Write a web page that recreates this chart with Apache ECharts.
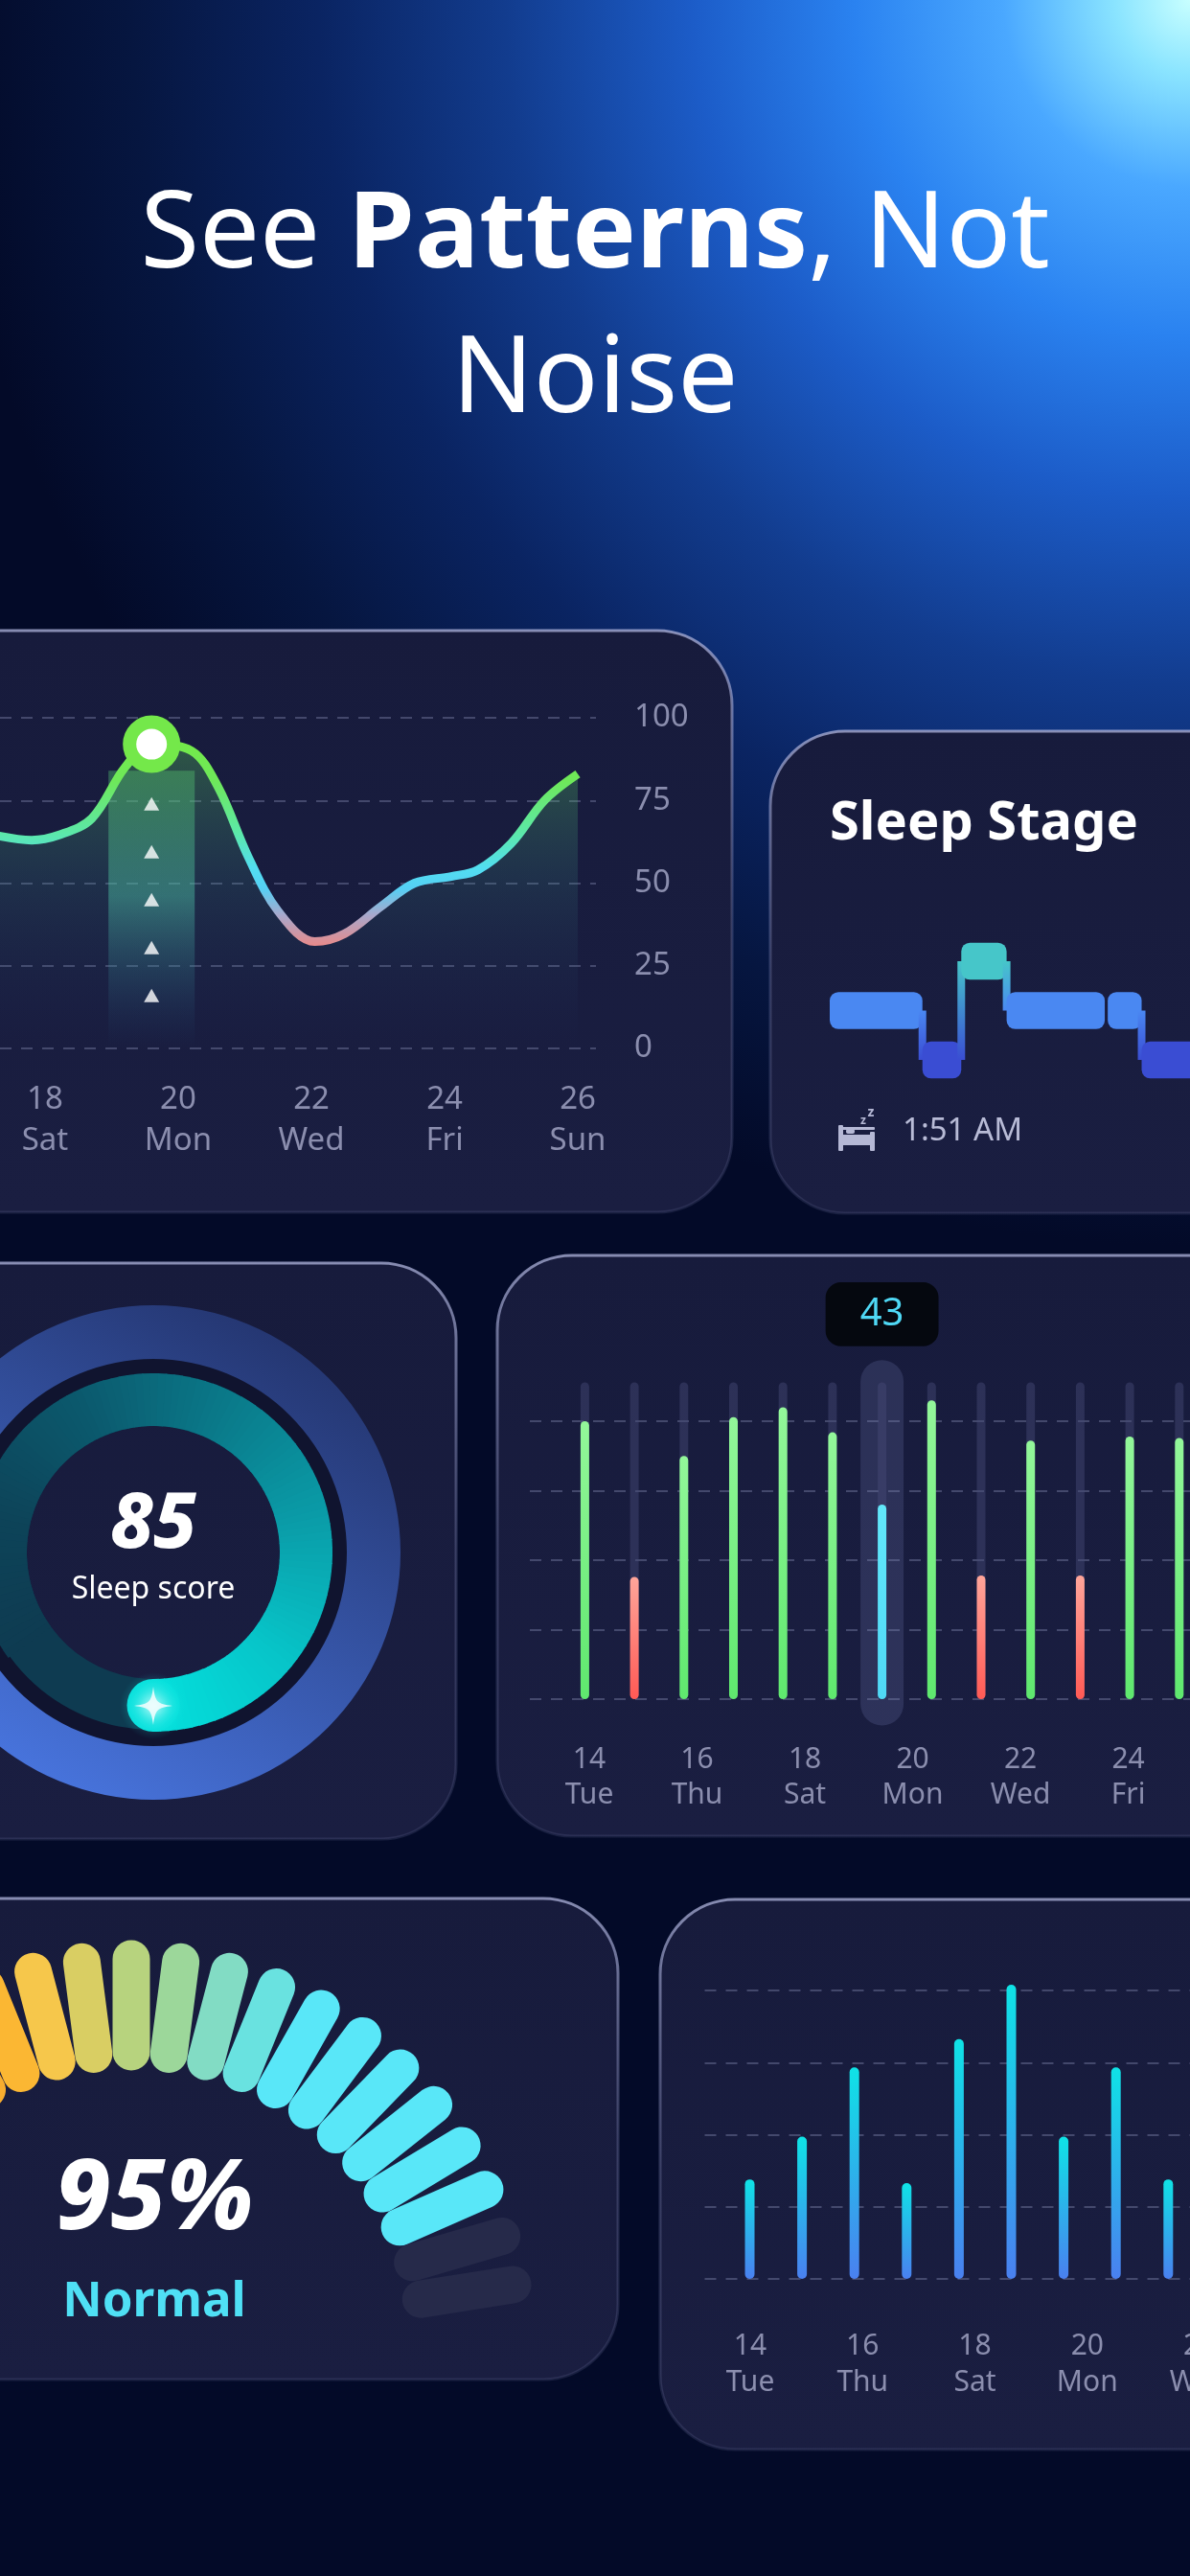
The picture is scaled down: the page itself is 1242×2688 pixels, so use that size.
<!DOCTYPE html>
<html>
<head>
<meta charset="utf-8">
<title>See Patterns, Not Noise</title>
<script src="https://cdn.jsdelivr.net/npm/echarts@6.0.0/dist/echarts.min.js"></script>
<style>
html, body { margin: 0; padding: 0; background: #020720; }
#main { width: 1242px; height: 2688px; }
</style>
</head>
<body>
<div id="main"></div>
<script>
var FONT = '"Noto Sans", "Open Sans", sans-serif';
var LABEL_COLOR = '#8b8eae';

// calendar
var dayNumbers = [14, 15, 16, 17, 18, 19, 20, 21, 22, 23, 24, 25, 26];
var dayNames = ['Tue', 'Wed', 'Thu', 'Fri', 'Sat', 'Sun', 'Mon', 'Tue', 'Wed', 'Thu', 'Fri', 'Sat', 'Sun'];

// trend card
var trendDays = [16.8, 17.3, 17.8, 18.2, 18.7, 19.2, 19.6, 20.2, 20.6, 21.05, 21.5, 22.05, 22.5, 23.05, 23.55, 24.1, 24.5, 25.0, 25.5, 26.0];
var trendValues = [67, 64.3, 63, 64.5, 69.5, 85, 92, 90, 79, 58, 41.5, 32.3, 34.7, 43, 50, 52, 54, 62, 75, 83];
var trendLabelDays = [18, 20, 22, 24, 26];
var trendPeakDay = 19.6;
var trendPeakValue = 92;
var trendBandValue = 84;
var trendArrowValues = [74, 59.5, 45, 30.5, 16];

// sleep stage card (hours from start, level 0 deep / 1 light / 2 rem)
var stageStart = [0, 1.86, 2.64, 3.55, 5.58, 6.26];
var stageEnd = [1.86, 2.64, 3.55, 5.52, 6.26, 8.2];
var stageLevel = [1, 0, 2, 1, 1, 0];
var bedTime = '1:51 AM';

// sleep score card
var sleepScore = 85;
var sleepScoreName = 'Sleep score';

// daily bars card
var dailyValues = [100, 44, 87.5, 101.5, 105, 96, 70, 107.5, 44.5, 93, 44.5, 94.5, 94];
var dailyTrack = 114;
var dailySelected = 6;
var dailySelectedLabel = '43';
var dailyLabelDays = [14, 16, 18, 20, 22, 24];

// gauge card
var gaugePercent = 95;
var gaugeStatus = 'Normal';
var gaugeSegments = 23;

// weekly bars card
var weeklyValues = [34.5, 49.3, 73.3, 33.2, 83.1, 102, 49.3, 73.3, 34.5];
var weeklyLabelDays = [14, 16, 18, 20, 22];

function grad(x, y, x2, y2, stops) {
    return new echarts.graphic.LinearGradient(x, y, x2, y2, stops.map(function (s) {
        return { offset: s[0], color: s[1] };
    }));
}

function dayLabel(v) {
    var i = dayNumbers.indexOf(Math.round(v));
    return i < 0 ? '' : Math.round(v) + '\n' + dayNames[i];
}

function card(x, y, w, h) {
    return {
        type: 'rect', z: -9,
        shape: { x: x, y: y, width: w, height: h, r: 78 },
        style: {
            fill: grad(0, 0, 0, 1, [[0, '#171b3c'], [1, '#1a1e41']]),
            stroke: grad(0, 0, 0, 1, [[0, 'rgba(175,180,220,0.75)'], [0.5, 'rgba(120,125,170,0.35)'], [1, 'rgba(110,115,160,0.2)']]),
            lineWidth: 3
        }
    };
}

function dashed() {
    return { lineStyle: { color: 'rgba(140,145,185,0.38)', type: [12, 10], width: 2 } };
}

var stageColors = ['#3a4dd3', '#4a88f2', '#46c6c9'];

var segmentColors = ['#f28e2b', '#f3932b', '#f4982b', '#f59d2b', '#f6a22c', '#f6a72d', '#f7a92e', '#f8ad2f',
    '#fbb733', '#f6c74b', '#d9ce63', '#b7d37e', '#9cd79a', '#82dcc4', '#69e2e0',
    '#59e7f8', '#59e7f8', '#59e7f8', '#59e7f8', '#59e7f8', '#59e7f8', '#59e7f8', '#59e7f8'];
var segmentStartAngle = 171, segmentEndAngle = 9;
var segmentData = [];
for (var i = 0; i < gaugeSegments; i++) {
    segmentData.push([355, segmentStartAngle - i * (segmentStartAngle - segmentEndAngle) / (gaugeSegments - 1), i]);
}
var litSegments = Math.floor(gaugePercent / 100 * gaugeSegments);

// score arc runs clockwise from 216deg; knob sits where the arc ends
var scoreCenter = [160, 1620];
var scoreStartAngle = 216;
var scoreEndAngle = ((scoreStartAngle - sleepScore / 100 * 360) % 360 + 360) % 360;
var scoreArcColors = ['#0e3b51', '#0d4459', '#0b5a6e', '#0a7a8a', '#0a9ca8', '#07c4c8', '#04e0dc'];
var starPath = 'path://M50,0 C55,40 60,45 100,50 C60,55 55,60 50,100 C45,60 40,55 0,50 C40,45 45,40 50,0 Z';

var chart = echarts.init(document.getElementById('main'));

var option = {
    animation: false,
    backgroundColor: '#020720',
    graphic: [
        {
            type: 'rect', z: -10,
            shape: { x: 0, y: 0, width: 1242, height: 2688 },
            style: {
                fill: new echarts.graphic.RadialGradient(1242, 0, 1300, [
                    { offset: 0, color: '#c8ffff' },
                    { offset: 0.06, color: '#8ae4ff' },
                    { offset: 0.15, color: '#4aa8ff' },
                    { offset: 0.27, color: '#2a82f0' },
                    { offset: 0.4, color: '#1c5cc8' },
                    { offset: 0.55, color: '#123c8e' },
                    { offset: 0.7, color: '#0a2462' },
                    { offset: 0.85, color: '#061640' },
                    { offset: 1, color: '#030a28' }
                ], true)
            }
        },
        card(-100, 658, 864, 607),
        card(804, 763, 538, 503),
        card(-100, 1318, 576, 601),
        card(519, 1310, 823, 606),
        card(-100, 1981, 745, 502),
        card(689, 1982, 653, 574),
        {
            type: 'text', z: 10,
            style: {
                x: 621, y: 247, align: 'center', verticalAlign: 'middle',
                text: '{r|See }{b|Patterns}{r|, Not}',
                rich: {
                    r: { fontSize: 112, fontFamily: FONT, fontWeight: 400, fill: '#ffffff' },
                    b: { fontSize: 112, fontFamily: FONT, fontWeight: 700, fill: '#ffffff' }
                }
            }
        },
        {
            type: 'text', z: 10,
            style: {
                x: 621, y: 398, align: 'center', verticalAlign: 'middle',
                text: 'Noise', fontSize: 112, fontFamily: FONT, fontWeight: 400, fill: '#ffffff'
            }
        },
        {
            type: 'text', z: 10,
            style: {
                x: 866, y: 860, align: 'left', verticalAlign: 'middle',
                text: 'Sleep Stage', fontSize: 56, fontFamily: FONT, fontWeight: 700, fill: '#ffffff'
            }
        },
        // bed icon
        {
            type: 'group', z: 10,
            children: [
                { type: 'rect', shape: { x: 875, y: 1174, width: 5, height: 27, r: 1 }, style: { fill: '#b5b8d5' } },
                { type: 'rect', shape: { x: 908, y: 1181, width: 5, height: 20, r: 1 }, style: { fill: '#b5b8d5' } },
                { type: 'rect', shape: { x: 875, y: 1184, width: 38, height: 11, r: 2 }, style: { fill: '#b5b8d5' } },
                { type: 'rect', shape: { x: 883, y: 1178, width: 9, height: 5, r: 2 }, style: { fill: '#b5b8d5' } },
                { type: 'rect', shape: { x: 875, y: 1176, width: 38, height: 3, r: 1 }, style: { fill: '#b5b8d5' } },
                { type: 'text', style: { x: 901, y: 1170, text: 'z', fontSize: 12, fontWeight: 700, fontFamily: FONT, fill: '#b5b8d5', align: 'center', verticalAlign: 'middle' } },
                { type: 'text', style: { x: 909, y: 1161, text: 'z', fontSize: 14, fontWeight: 700, fontFamily: FONT, fill: '#b5b8d5', align: 'center', verticalAlign: 'middle' } }
            ]
        },
        {
            type: 'text', z: 10,
            style: {
                x: 942, y: 1181, align: 'left', verticalAlign: 'middle',
                text: bedTime, fontSize: 33, fontFamily: FONT, fill: '#b8bbd6'
            }
        },
        {
            type: 'text', z: 10,
            style: {
                x: 161, y: 2297, align: 'center', verticalAlign: 'middle',
                text: gaugePercent + '%', fontSize: 102, fontFamily: FONT, fontWeight: 800, fontStyle: 'italic', fill: '#ffffff'
            }
        },
        {
            type: 'text', z: 10,
            style: {
                x: 161, y: 2402, align: 'center', verticalAlign: 'middle',
                text: gaugeStatus, fontSize: 51, fontFamily: FONT, fontWeight: 700, fill: '#4fe0f5'
            }
        }
    ],
    grid: [
        { left: 0, top: 749, width: 622, height: 345, outerBoundsMode: 'none' },
        { left: 866, top: 1003, width: 416, height: 103, outerBoundsMode: 'none' },
        { left: 553, top: 1483, width: 709, height: 290, outerBoundsMode: 'none' },
        { left: 584.55, top: 1483, width: 672.1, height: 290, outerBoundsMode: 'none' },
        { left: 735.5, top: 2077, width: 527, height: 301, outerBoundsMode: 'none' },
        { left: 755.2, top: 2077, width: 491.4, height: 301, outerBoundsMode: 'none' }
    ],
    polar: [
        { center: [137, 2447], radius: 422 },
        { center: scoreCenter, radius: 187 }
    ],
    radiusAxis: [
        { polarIndex: 0, min: 0, max: 422, show: false },
        { polarIndex: 1, min: 0, max: 187, show: false }
    ],
    angleAxis: [
        { polarIndex: 0, type: 'value', min: 0, max: 360, startAngle: 0, clockwise: false, show: false },
        { polarIndex: 1, type: 'value', min: 0, max: 360, startAngle: 0, clockwise: false, show: false }
    ],
    xAxis: [
        {
            gridIndex: 0, type: 'value', position: 'bottom', min: 17.324, max: 26.273,
            axisLine: { show: false }, axisTick: { show: false }, splitLine: { show: false },
            axisLabel: {
                customValues: trendLabelDays, formatter: dayLabel, margin: 32,
                color: LABEL_COLOR, fontSize: 33, lineHeight: 43, fontFamily: FONT
            }
        },
        { gridIndex: 1, type: 'value', min: 0, max: 8, show: false },
        {
            gridIndex: 2, type: 'value', position: 'bottom', min: 12.898, max: 25.5,
            axisLine: { show: false }, axisTick: { show: false }, splitLine: { show: false },
            axisLabel: {
                customValues: dailyLabelDays, formatter: dayLabel, margin: 45,
                color: LABEL_COLOR, fontSize: 30, lineHeight: 37, fontFamily: FONT
            }
        },
        { gridIndex: 3, type: 'category', data: dayNumbers, show: false },
        {
            gridIndex: 4, type: 'value', position: 'bottom', min: 13.19, max: 22.178,
            axisLine: { show: false }, axisTick: { show: false }, splitLine: { show: false },
            axisLabel: {
                customValues: weeklyLabelDays, formatter: dayLabel, margin: 51,
                color: LABEL_COLOR, fontSize: 30, lineHeight: 38, fontFamily: FONT
            }
        },
        { gridIndex: 5, type: 'category', data: dayNumbers.slice(0, weeklyValues.length), show: false }
    ],
    yAxis: [
        {
            gridIndex: 0, type: 'value', position: 'right', min: 0, max: 100, interval: 25,
            axisLine: { show: false }, axisTick: { show: false },
            axisLabel: { margin: 40, color: LABEL_COLOR, fontSize: 33, fontFamily: FONT },
            splitLine: dashed()
        },
        { gridIndex: 1, type: 'value', min: 0, max: 2, show: false },
        {
            gridIndex: 2, type: 'value', min: 0, max: 100, interval: 25,
            axisLine: { show: false }, axisTick: { show: false }, axisLabel: { show: false },
            splitLine: dashed()
        },
        { gridIndex: 3, type: 'value', min: 0, max: 100, show: false },
        {
            gridIndex: 4, type: 'value', min: 0, max: 100, interval: 25,
            axisLine: { show: false }, axisTick: { show: false }, axisLabel: { show: false },
            splitLine: dashed()
        },
        { gridIndex: 5, type: 'value', min: 0, max: 100, show: false }
    ],
    series: [
        // trend card
        {
            type: 'bar', xAxisIndex: 0, yAxisIndex: 0, barWidth: 90, silent: true,
            data: [[trendPeakDay, trendBandValue]],
            itemStyle: { color: grad(0, 0, 0, 1, [[0, 'rgba(80,190,110,0.4)'], [0.45, 'rgba(80,200,170,0.45)'], [1, 'rgba(40,90,140,0)']]) }
        },
        {
            type: 'line', xAxisIndex: 0, yAxisIndex: 0, smooth: 0.35, symbol: 'none', z: 3,
            data: trendDays.map(function (d, i) { return [d, trendValues[i]]; }),
            lineStyle: {
                width: 9,
                color: grad(0, 0, 0, 1, [[0, '#74ea48'], [0.2, '#6ee85a'], [0.45, '#5ce8a8'], [0.62, '#52def0'], [0.72, '#55d0f5'], [0.85, '#a8a8cc'], [1, '#e88a8a']])
            },
            areaStyle: {
                color: grad(0, 0, 0, 1, [[0, 'rgba(100,230,90,0.42)'], [0.45, 'rgba(70,170,150,0.2)'], [1, 'rgba(40,60,130,0)']])
            }
        },
        {
            type: 'scatter', xAxisIndex: 0, yAxisIndex: 0, symbol: 'triangle', symbolSize: [16, 14], z: 4,
            data: trendArrowValues.map(function (v) { return [trendPeakDay, v]; }),
            itemStyle: { color: '#ffffff' }
        },
        {
            type: 'scatter', xAxisIndex: 0, yAxisIndex: 0, symbol: 'circle', symbolSize: 46, z: 5,
            data: [[trendPeakDay, trendPeakValue]],
            itemStyle: { color: '#ffffff', borderColor: '#74e84a', borderWidth: 14, opacity: 1 }
        },
        // sleep stage card
        {
            type: 'custom', xAxisIndex: 1, yAxisIndex: 1,
            data: stageStart.map(function (s, i) { return [s, stageLevel[i], stageEnd[i]]; }),
            renderItem: function (params, api) {
                var i = params.dataIndex;
                var level = api.value(1);
                var p1 = api.coord([api.value(0), level]);
                var p2 = api.coord([api.value(2), level]);
                var h = api.size([0, 0.75])[1];
                var children = [{
                    type: 'rect',
                    shape: { x: p1[0], y: p1[1] - h / 2, width: p2[0] - p1[0], height: h, r: 9 },
                    style: { fill: stageColors[level] }
                }];
                if (i < stageStart.length - 1 && stageEnd[i] === stageStart[i + 1]) {
                    var next = stageLevel[i + 1];
                    var q = api.coord([stageEnd[i], next]);
                    var upper = level > next ? level : next;
                    var lower = level > next ? next : level;
                    var yTop = Math.min(p2[1], q[1]);
                    var yBot = Math.max(p2[1], q[1]);
                    children.push({
                        type: 'rect',
                        shape: { x: p2[0] - 4, y: yTop, width: 8, height: yBot - yTop },
                        style: { fill: grad(0, 0, 0, 1, [[0, stageColors[upper]], [1, stageColors[lower]]]) }
                    });
                }
                return { type: 'group', children: children };
            }
        },
        // sleep score card
        {
            type: 'pie', center: scoreCenter, radius: [185, 204], silent: true,
            label: { show: false }, labelLine: { show: false },
            data: [{ value: 1, itemStyle: { color: '#10142f' } }]
        },
        {
            type: 'pie', center: scoreCenter, radius: [202, 258], silent: true,
            label: { show: false }, labelLine: { show: false },
            data: [{ value: 1, itemStyle: { color: grad(0.8, 0, 0.2, 1, [[0, '#22326a'], [1, '#4a78e4']]) } }]
        },
        {
            type: 'gauge', center: scoreCenter, radius: 187,
            startAngle: scoreStartAngle, endAngle: scoreStartAngle - 360, min: 0, max: 100,
            axisLine: { roundCap: true, lineStyle: { width: 55, color: [[1, '#0e3b51']] } },
            progress: { show: false },
            splitLine: { show: false }, axisTick: { show: false }, axisLabel: { show: false },
            anchor: { show: false }, pointer: { show: false },
            title: { offsetCenter: [0, 39], fontSize: 32, color: '#ffffff', fontFamily: FONT },
            detail: {
                offsetCenter: [0, -28], fontSize: 80, fontWeight: 800, fontStyle: 'italic',
                color: '#ffffff', fontFamily: FONT, formatter: '{value}'
            },
            data: [{ value: sleepScore, name: sleepScoreName }]
        },
        {
            // score arc, shaded along its sweep
            type: 'custom', coordinateSystem: 'polar', polarIndex: 1, z: 5, silent: true,
            data: [[160, scoreEndAngle]],
            renderItem: function (params, api) {
                var c = api.coord([0, 0]);
                var sweep = sleepScore / 100 * 2 * Math.PI;
                var a0 = -scoreStartAngle * Math.PI / 180;
                var steps = 120;
                var children = [];
                for (var k = 0; k < steps; k++) {
                    var s = a0 + sweep * k / steps;
                    children.push({
                        type: 'sector',
                        shape: { cx: c[0], cy: c[1], r0: 132, r: 187, startAngle: s, endAngle: s + sweep / steps + 0.006, clockwise: true },
                        style: { fill: echarts.color.lerp((k + 0.5) / steps, scoreArcColors) }
                    });
                }
                var end = api.coord([159.5, scoreEndAngle]);
                children.push({
                    type: 'circle',
                    shape: { cx: end[0], cy: end[1], r: 27.5 },
                    style: { fill: scoreArcColors[scoreArcColors.length - 1] }
                });
                return { type: 'group', children: children };
            }
        },
        {
            type: 'scatter', coordinateSystem: 'polar', polarIndex: 1, symbol: 'circle', symbolSize: 70, z: 6, silent: true,
            data: [[160, scoreEndAngle]],
            itemStyle: {
                color: new echarts.graphic.RadialGradient(0.5, 0.5, 0.5, [
                    { offset: 0, color: 'rgba(190,255,255,0.6)' },
                    { offset: 1, color: 'rgba(0,230,225,0)' }
                ])
            }
        },
        {
            type: 'scatter', coordinateSystem: 'polar', polarIndex: 1, symbol: starPath, symbolSize: 40, z: 7, silent: true,
            data: [[160, scoreEndAngle]],
            itemStyle: { color: '#ffffff', shadowBlur: 14, shadowColor: 'rgba(255,255,255,0.9)' }
        },
        // daily bars card
        {
            type: 'custom', xAxisIndex: 3, yAxisIndex: 3, z: 1,
            data: [[dailySelected, dailyValues[dailySelected]]],
            renderItem: function (params, api) {
                var idx = api.value(0);
                var band = api.size([1, 0])[0];
                var top = api.coord([idx, 122]);
                var bottom = api.coord([idx, -9.5]);
                var w = band * 0.87;
                var tipTop = api.coord([idx, 150]);
                var tipBottom = api.coord([idx, 127]);
                var tipW = band * 2.28;
                return {
                    type: 'group',
                    children: [
                        {
                            type: 'rect',
                            shape: { x: top[0] - w / 2, y: top[1], width: w, height: bottom[1] - top[1], r: w / 2 },
                            style: { fill: 'rgba(120,128,180,0.22)' }
                        },
                        {
                            type: 'rect',
                            shape: { x: tipTop[0] - tipW / 2, y: tipTop[1], width: tipW, height: tipBottom[1] - tipTop[1], r: 16 },
                            style: { fill: '#05080f' }
                        },
                        {
                            type: 'text',
                            style: {
                                x: tipTop[0], y: (tipTop[1] + tipBottom[1]) / 2, align: 'center', verticalAlign: 'middle',
                                text: dailySelectedLabel, fontSize: 40, fontFamily: FONT, fill: '#4fd8f5'
                            }
                        }
                    ]
                };
            }
        },
        {
            type: 'bar', xAxisIndex: 3, yAxisIndex: 3, barWidth: 9, barGap: '-100%', clip: false, silent: true,
            data: dailyValues.map(function () { return dailyTrack; }),
            itemStyle: { color: 'rgba(70,76,120,0.45)', borderRadius: 5 }
        },
        {
            type: 'bar', xAxisIndex: 3, yAxisIndex: 3, barWidth: 9, barGap: '-100%', clip: false,
            data: dailyValues,
            itemStyle: {
                borderRadius: 5,
                color: function (p) {
                    if (p.dataIndex === dailySelected) return grad(0, 0, 0, 1, [[0, '#62e8fa'], [1, '#4fd8f5']]);
                    if (p.value < 50) return grad(0, 0, 0, 1, [[0, '#ffa59a'], [1, '#ff5a55']]);
                    return grad(0, 0, 0, 1, [[0, '#93f79a'], [1, '#5fe86e']]);
                }
            }
        },
        // gauge card
        {
            type: 'custom', coordinateSystem: 'polar', polarIndex: 0,
            data: segmentData,
            renderItem: function (params, api) {
                var a = api.value(1);
                var i = api.value(2);
                var p1 = api.coord([306, a]);
                var p2 = api.coord([403, a]);
                return {
                    type: 'line',
                    shape: { x1: p1[0], y1: p1[1], x2: p2[0], y2: p2[1] },
                    style: { stroke: i < litSegments ? segmentColors[i] : '#262a4a', lineWidth: 39, lineCap: 'round' }
                };
            }
        },
        // weekly bars card
        {
            type: 'bar', xAxisIndex: 5, yAxisIndex: 5, barWidth: 10, clip: false,
            data: weeklyValues,
            itemStyle: { borderRadius: 5, color: grad(0, 0, 0, 1, [[0, '#0fe3e6'], [1, '#4a80f0']]) }
        }
    ]
};

chart.setOption(option);
</script>
</body>
</html>
